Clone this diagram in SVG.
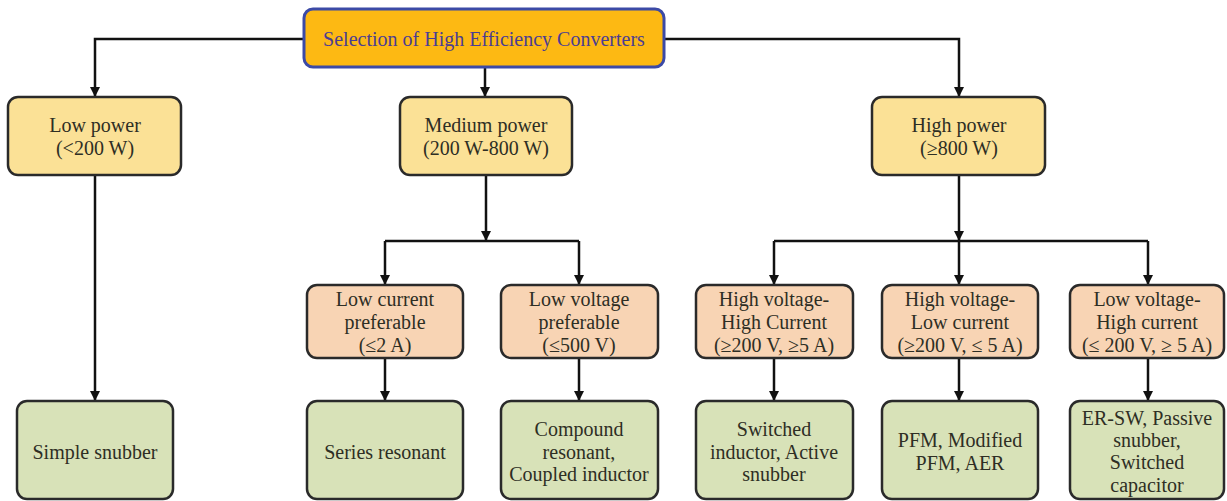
<svg xmlns="http://www.w3.org/2000/svg" width="1227" height="501" viewBox="0 0 1227 501">
<defs>
<marker id="arr" markerUnits="userSpaceOnUse" markerWidth="10" markerHeight="11" refX="10" refY="5" orient="auto">
<path d="M0,0 L10,5 L0,10 Z" fill="#111"/>
</marker>
<style>
.t{font-family:"Liberation Serif","Times New Roman",serif;font-size:20px;fill:#2e2e24;text-anchor:middle}
.title{font-family:"Liberation Serif","Times New Roman",serif;font-size:20px;fill:#4b3d92;text-anchor:middle}
.top{fill:#fdb913;stroke:#3c4aa6;stroke-width:3}
.l1{fill:#fbe196;stroke:#2a2a2a;stroke-width:2.5}
.l2{fill:#f8d4b4;stroke:#2a2a2a;stroke-width:2.5}
.l3{fill:#d8e2b8;stroke:#2a2a2a;stroke-width:2.5}
.c{fill:none;stroke:#111;stroke-width:2.5}
.a{marker-end:url(#arr)}
</style>
</defs>
<rect width="1227" height="501" fill="#fff"/>
<g id="connectors">
<path class="c a" d="M304,39 H95 V97"/>
<path class="c a" d="M485,67 V97"/>
<path class="c a" d="M664,39 H959 V97"/>
<path class="c a" d="M95,175 V401"/>
<path class="c a" d="M486,175 V241"/>
<path class="c" d="M385,241 H579"/>
<path class="c a" d="M385,241 V285"/>
<path class="c a" d="M579,241 V285"/>
<path class="c a" d="M959,175 V241"/>
<path class="c" d="M774,241 H1148"/>
<path class="c a" d="M774,241 V285"/>
<path class="c a" d="M959,241 V285"/>
<path class="c a" d="M1148,241 V285"/>
<path class="c a" d="M385,358 V401"/>
<path class="c a" d="M579,358 V401"/>
<path class="c a" d="M774,358 V401"/>
<path class="c a" d="M959,358 V401"/>
<path class="c a" d="M1148,358 V401"/>
</g>
<g id="root">
<rect class="top" x="304" y="9" width="360" height="58" rx="9"/>
<text class="title" x="484" y="46">Selection of High Efficiency Converters</text>
</g>
<g id="low-power">
<rect class="l1" x="8" y="97" width="173" height="78" rx="10"/>
<text class="t" x="95" y="132">Low power</text>
<text class="t" x="95" y="155">(&lt;200 W)</text>
</g>
<g id="medium-power">
<rect class="l1" x="400" y="97" width="172" height="78" rx="10"/>
<text class="t" x="486" y="132">Medium power</text>
<text class="t" x="486" y="155">(200 W-800 W)</text>
</g>
<g id="high-power">
<rect class="l1" x="872" y="97" width="173" height="78" rx="10"/>
<text class="t" x="959" y="132">High power</text>
<text class="t" x="959" y="155">(≥800 W)</text>
</g>
<g id="low-current">
<rect class="l2" x="307" y="285" width="156" height="73" rx="10"/>
<text class="t" x="385" y="306">Low current</text>
<text class="t" x="385" y="329">preferable</text>
<text class="t" x="385" y="352">(≤2 A)</text>
</g>
<g id="low-voltage">
<rect class="l2" x="501" y="285" width="157" height="73" rx="10"/>
<text class="t" x="579" y="306">Low voltage</text>
<text class="t" x="579" y="329">preferable</text>
<text class="t" x="579" y="352">(≤500 V)</text>
</g>
<g id="hv-hc">
<rect class="l2" x="696" y="285" width="157" height="73" rx="10"/>
<text class="t" x="774" y="306">High voltage-</text>
<text class="t" x="774" y="329">High Current</text>
<text class="t" x="774" y="352">(≥200 V, ≥5 A)</text>
</g>
<g id="hv-lc">
<rect class="l2" x="882" y="285" width="156" height="73" rx="10"/>
<text class="t" x="960" y="306">High voltage-</text>
<text class="t" x="960" y="329">Low current</text>
<text class="t" x="960" y="352">(≥200 V, ≤ 5 A)</text>
</g>
<g id="lv-hc">
<rect class="l2" x="1070" y="285" width="154" height="73" rx="10"/>
<text class="t" x="1147" y="306">Low voltage-</text>
<text class="t" x="1147" y="329">High current</text>
<text class="t" x="1147" y="352">(≤ 200 V, ≥ 5 A)</text>
</g>
<g id="simple-snubber">
<rect class="l3" x="17" y="401" width="156" height="98" rx="10"/>
<text class="t" x="95" y="459">Simple snubber</text>
</g>
<g id="series-resonant">
<rect class="l3" x="307" y="401" width="156" height="98" rx="10"/>
<text class="t" x="385" y="459">Series resonant</text>
</g>
<g id="compound">
<rect class="l3" x="501" y="401" width="157" height="98" rx="10"/>
<text class="t" x="579" y="436">Compound</text>
<text class="t" x="579" y="459">resonant,</text>
<text class="t" x="579" y="481">Coupled inductor</text>
</g>
<g id="switched-inductor">
<rect class="l3" x="696" y="401" width="157" height="98" rx="10"/>
<text class="t" x="774" y="436">Switched</text>
<text class="t" x="774" y="459">inductor, Active</text>
<text class="t" x="774" y="481">snubber</text>
</g>
<g id="pfm">
<rect class="l3" x="882" y="401" width="156" height="98" rx="10"/>
<text class="t" x="960" y="447">PFM, Modified</text>
<text class="t" x="960" y="470">PFM, AER</text>
</g>
<g id="er-sw">
<rect class="l3" x="1070" y="401" width="154" height="98" rx="10"/>
<text class="t" x="1147" y="425">ER-SW, Passive</text>
<text class="t" x="1147" y="447">snubber,</text>
<text class="t" x="1147" y="469">Switched</text>
<text class="t" x="1147" y="492">capacitor</text>
</g>
</svg>
